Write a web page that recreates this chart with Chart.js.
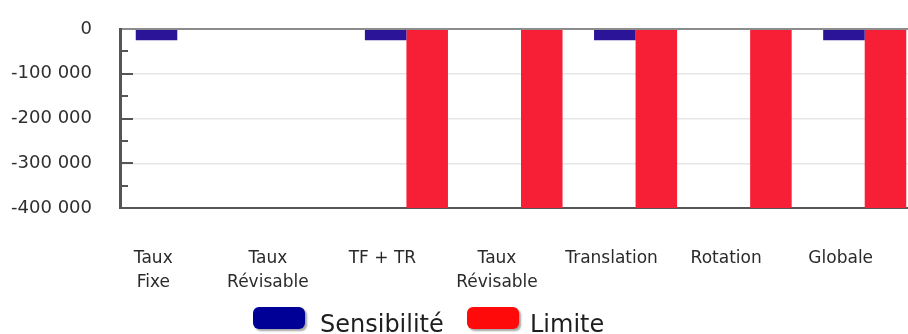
<!DOCTYPE html>
<html lang="fr">
<head>
<meta charset="utf-8">
<title>Sensibilité et limite</title>
<script src="https://cdn.jsdelivr.net/npm/chart.js@4.4.1/dist/chart.umd.min.js"></script>
<style>
  html, body { margin: 0; padding: 0; background: #fff; overflow: hidden; }
  #wrap { position: relative; width: 908px; height: 334px; overflow: hidden; }
  #c { position: absolute; left: 0; top: 0; }
  .swatch { position: absolute; top: 307px; width: 52px; height: 22px; border-radius: 6px;
            box-shadow: 2px 2px 2px rgba(90,90,90,0.55); }
  .ltext { position: absolute; top: 312px; font: 24px/24px "DejaVu Sans", sans-serif; color: #1e1e1e; white-space: nowrap; }
</style>
</head>
<body>
<div id="wrap">
  <canvas id="c" width="922" height="334"></canvas>
  <div class="swatch" style="left:253px;background:#000096"></div>
  <div class="ltext" style="left:320px">Sensibilité</div>
  <div class="swatch" style="left:467px;background:#ff0a0a"></div>
  <div class="ltext" style="left:530px">Limite</div>
</div>
<script>
// Categories (multi-line labels)
const categories = [
  ['Taux', 'Fixe'],
  ['Taux', 'Révisable'],
  ['TF + TR'],
  ['Taux', 'Révisable'],
  ['Translation'],
  ['Rotation'],
  ['Globale']
];

// Series values
const sensibilite = [-25000, null, -25000, null, -25000, null, -25000];
const limite      = [null, null, -400000, -400000, -400000, -400000, -400000];

// Value axis
const yMin = -400000;
const yMax = 0;
const yStep = 50000;       // minor tick step
const yLabelStep = 100000; // labelled ticks

function formatNumber(v) {
  if (v === 0) return '0';
  const s = Math.abs(v).toString().replace(/\B(?=(\d{3})+(?!\d))/g, ' ');
  return (v < 0 ? '-' : '') + s;
}

// Short tick marks drawn inside the plot, on the left axis
const innerTicks = {
  id: 'innerTicks',
  afterDatasetsDraw(chart) {
    const y = chart.scales.y;
    const left = chart.chartArea.left;
    const ctx = chart.ctx;
    ctx.save();
    ctx.strokeStyle = '#555';
    ctx.lineWidth = 2;
    y.ticks.forEach((t, i) => {
      if (t.value === 0 || t.value === yMin) return;
      const py = Math.round(y.getPixelForTick(i));
      const len = (t.value % yLabelStep === 0) ? 13 : 8;
      ctx.beginPath();
      ctx.moveTo(left, py);
      ctx.lineTo(left + len, py);
      ctx.stroke();
    });
    ctx.restore();
  }
};

new Chart(document.getElementById('c'), {
  type: 'bar',
  data: {
    labels: categories,
    datasets: [
      { label: 'Sensibilité', data: sensibilite, backgroundColor: '#2c1499', borderWidth: 0 },
      { label: 'Limite', data: limite, backgroundColor: '#f61f36', borderWidth: 0 }
    ]
  },
  options: {
    responsive: false,
    animation: false,
    devicePixelRatio: 1,
    layout: { padding: { top: 29, left: 0, right: 0, bottom: 0 } },
    datasets: { bar: { categoryPercentage: 0.725, barPercentage: 1.0 } },
    plugins: { legend: { display: false }, tooltip: { enabled: false } },
    scales: {
      x: {
        afterFit(scale) { scale.height = 126; scale.paddingLeft = 0; scale.paddingRight = 0; },
        grid: { display: false, drawTicks: false },
        border: { display: true, color: '#555', width: 2 },
        ticks: {
          maxRotation: 0, minRotation: 0, autoSkip: false,
          padding: 39, labelOffset: -24,
          color: '#2a2a2a',
          font: { family: '"DejaVu Sans", sans-serif', size: 17, lineHeight: 1.41 }
        }
      },
      y: {
        min: yMin, max: yMax,
        afterFit(scale) { scale.width = 120; scale.paddingTop = 0; scale.paddingBottom = 0; },
        grid: {
          drawTicks: false,
          color: ctx => {
            const v = ctx.tick && ctx.tick.value;
            if (v === 0) return '#8c8c8c';
            if (v % yLabelStep === 0) return '#e6e6e6';
            return 'rgba(0,0,0,0)';
          },
          lineWidth: ctx => (ctx.tick && ctx.tick.value === 0) ? 2 : 1.5
        },
        border: { display: true, color: '#555', width: 3 },
        ticks: {
          stepSize: yStep, padding: 28, autoSkip: false,
          color: '#2f2f2f',
          font: { family: '"DejaVu Sans", sans-serif', size: 18 },
          callback: v => (v % yLabelStep === 0) ? formatNumber(v) : ''
        }
      }
    }
  },
  plugins: [innerTicks]
});
</script>
</body>
</html>
